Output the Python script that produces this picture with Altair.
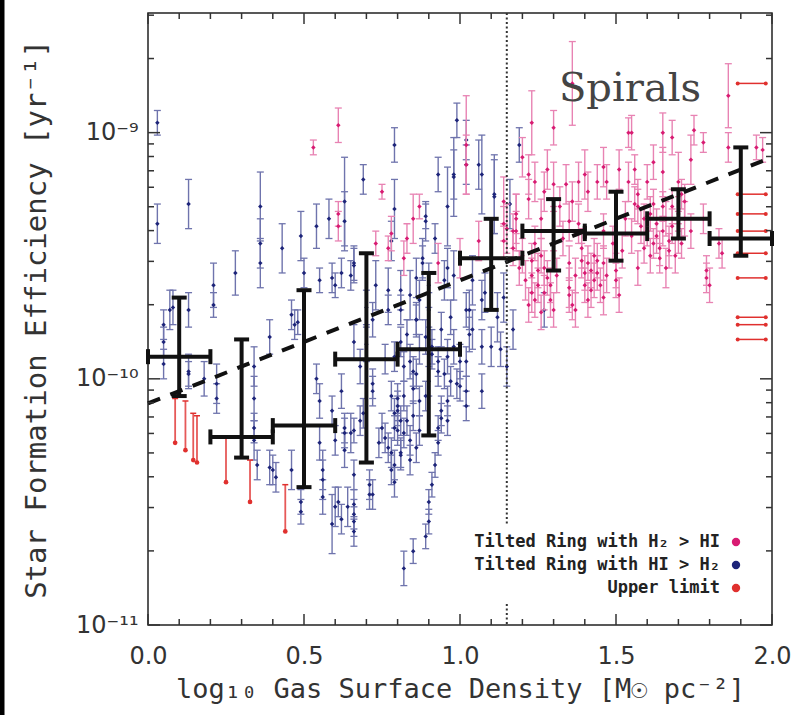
import math
import altair as alt
import pandas as pd

# ---------------- data (x = log10 gas surface density, ly = log10 SFE, e = error in dex)
blue_points = [
    (0.03, -8.96, 0.05), (0.03, -9.37, 0.08), (0.13, -9.29, 0.10), (0.21, -9.62, 0.09), (0.28, -9.57, 0.09),
    (0.36, -9.30, 0.14), (0.36, -9.45, 0.10), (0.36, -9.53, 0.10), (0.43, -9.47, 0.10), (0.49, -9.42, 0.10),
    (0.50, -9.57, 0.06), (0.54, -9.38, 0.09), (0.58, -9.35, 0.08), (0.63, -9.28, 0.18), (0.63, -9.36, 0.12),
    (0.55, -9.60, 0.05), (0.59, -9.59, 0.06), (0.60, -9.62, 0.05), (0.62, -9.57, 0.06), (0.65, -9.58, 0.06),
    (0.66, -9.54, 0.07), (0.69, -9.19, 0.06), (0.79, -9.05, 0.07), (0.79, -9.31, 0.12), (0.93, -9.17, 0.07),
    (0.96, -9.30, 0.16), (0.99, -8.95, 0.07), (0.98, -9.18, 0.16), (1.07, -9.17, 0.16), (1.11, -9.26, 0.15),
    (0.89, -9.34, 0.05), (0.92, -9.43, 0.06), (0.88, -9.51, 0.08), (0.78, -9.44, 0.08), (0.77, -9.64, 0.09),
    (0.81, -9.64, 0.08), (0.86, -9.59, 0.08), (0.88, -9.53, 0.07), (0.95, -9.60, 0.08), (0.96, -9.55, 0.08),
    (0.66, -9.53, 0.07), (1.19, -9.05, 0.07), (1.11, -9.25, 0.16), (1.16, -9.29, 0.10), (1.27, -9.72, 0.07),
    (1.17, -9.80, 0.08), (1.14, -9.67, 0.10), (1.12, -9.75, 0.10), (1.07, -9.87, 0.07), (1.02, -9.03, 0.08),
    (0.98, -9.17, 0.10), (1.02, -9.13, 0.08), (1.06, -9.13, 0.10), (0.89, -9.36, 0.08),
    (0.07, -9.72, 0.08), (0.05, -9.78, 0.06), (0.05, -9.85, 0.06), (0.08, -9.71, 0.07), (0.13, -9.72, 0.07),
    (0.13, -9.97, 0.07), (0.18, -10.00, 0.07), (0.22, -10.02, 0.08), (0.21, -9.70, 0.05), (0.05, -9.94, 0.06),
    (0.13, -9.98, 0.05), (0.22, -10.08, 0.06), (0.39, -9.83, 0.07), (0.34, -9.95, 0.08), (0.34, -10.08, 0.09),
    (0.34, -10.25, 0.08), (0.34, -10.20, 0.06), (0.35, -10.35, 0.06), (0.39, -10.36, 0.07), (0.41, -10.40, 0.06),
    (0.40, -10.37, 0.06), (0.46, -10.37, 0.08), (0.49, -10.50, 0.05), (0.49, -10.54, 0.05), (0.46, -9.74, 0.06),
    (0.47, -9.78, 0.06), (0.48, -9.77, 0.05), (0.54, -10.00, 0.06), (0.55, -10.09, 0.07), (0.55, -10.26, 0.07),
    (0.56, -10.37, 0.08), (0.56, -10.48, 0.07), (0.56, -10.41, 0.08), (0.59, -10.13, 0.06), (0.60, -10.25, 0.06),
    (0.62, -10.05, 0.07), (0.66, -9.85, 0.07), (0.65, -10.22, 0.08), (0.63, -10.29, 0.07), (0.61, -10.50, 0.06),
    (0.64, -10.52, 0.08), (0.59, -10.59, 0.12), (0.60, -10.52, 0.08), (0.62, -10.57, 0.06), (0.66, -10.55, 0.06),
    (0.66, -10.62, 0.06), (0.63, -10.22, 0.06), (0.66, -10.21, 0.05), (0.69, -10.14, 0.06), (0.71, -10.43, 0.06),
    (0.71, -10.47, 0.06), (0.75, -10.20, 0.06), (0.77, -10.28, 0.06), (0.78, -10.37, 0.06), (0.80, -10.13, 0.06),
    (0.70, -9.71, 0.07), (0.72, -9.76, 0.07), (0.70, -9.86, 0.07), (0.77, -9.72, 0.06),
    (0.81, -9.72, 0.06), (0.83, -9.82, 0.06), (0.86, -9.76, 0.06), (0.90, -9.72, 0.07), (0.97, -9.75, 0.07),
    (1.02, -9.72, 0.07), (1.03, -9.82, 0.07), (0.84, -9.93, 0.07), (0.86, -9.98, 0.06), (0.85, -10.04, 0.06),
    (0.87, -10.09, 0.06), (0.93, -9.93, 0.06), (0.95, -9.98, 0.06), (0.99, -10.02, 0.06), (1.02, -9.93, 0.06),
    (1.02, -10.05, 0.06), (0.96, -10.09, 0.06), (0.94, -10.16, 0.06), (0.80, -10.08, 0.06), (0.79, -10.14, 0.06),
    (0.81, -10.17, 0.06), (0.82, -10.22, 0.06), (0.79, -10.20, 0.05), (0.76, -10.24, 0.06),
    (0.74, -10.26, 0.06), (0.78, -10.30, 0.06), (0.81, -10.30, 0.06), (0.79, -10.42, 0.06),
    (0.72, -10.47, 0.06), (0.66, -10.39, 0.06), (0.66, -10.51, 0.06), (0.66, -10.58, 0.06),
    (0.93, -10.20, 0.05), (0.93, -10.26, 0.05), (0.92, -10.35, 0.05), (0.91, -10.43, 0.05), (0.90, -10.50, 0.05),
    (0.90, -10.58, 0.05), (0.89, -10.64, 0.05), (0.85, -10.70, 0.05), (0.82, -10.77, 0.07),
    (0.73, -9.62, 0.10), (0.84, -9.66, 0.10), (0.90, -9.62, 0.09), (0.98, -9.58, 0.10), (1.04, -9.60, 0.10),
    (1.08, -9.65, 0.08), (1.13, -9.88, 0.07), (1.15, -9.95, 0.08), (0.87, -9.88, 0.06), (0.91, -9.90, 0.06),
    (0.76, -9.92, 0.06), (0.68, -9.95, 0.07), (0.72, -10.02, 0.06),
    (0.78, -10.07, 0.06), (0.80, -10.11, 0.06), (0.82, -10.07, 0.06), (0.83, -10.17, 0.06), (0.85, -10.15, 0.06),
    (0.80, -10.21, 0.06), (0.84, -10.25, 0.06), (0.86, -10.28, 0.06), (0.87, -10.21, 0.06), (0.81, -10.31, 0.06),
    (0.79, -10.35, 0.06), (0.84, -10.33, 0.06), (0.87, -9.68, 0.08), (0.86, -9.76, 0.07), (0.89, -9.83, 0.07),
    (0.91, -9.87, 0.07), (0.94, -9.80, 0.07), (0.96, -9.91, 0.07), (0.98, -9.87, 0.07), (1.00, -9.93, 0.07),
    (0.93, -9.97, 0.06), (0.97, -10.01, 0.06), (1.00, -10.03, 0.06), (1.02, -10.11, 0.06), (1.04, -9.80, 0.08),
    (1.03, -9.72, 0.08), (1.07, -9.68, 0.08), (1.10, -9.87, 0.08), (1.07, -10.05, 0.07), (0.94, -10.13, 0.06),
    (0.96, -10.17, 0.06), (0.89, -10.07, 0.06), (0.90, -10.01, 0.06), (0.85, -9.97, 0.06), (0.82, -9.95, 0.06),
    (0.79, -9.91, 0.06), (0.81, -9.85, 0.06), (0.72, -10.05, 0.06), (0.68, -10.17, 0.06), (0.63, -10.20, 0.06),
]

magenta_points = [
    (0.53, -9.06, 0.03), (0.61, -8.97, 0.07), (0.61, -9.33, 0.05), (0.61, -9.38, 0.06), (0.75, -9.24, 0.03),
    (1.02, -9.05, 0.20), (1.02, -9.13, 0.12), (0.87, -9.30, 0.05), (0.85, -9.35, 0.10), (0.78, -9.41, 0.07),
    (0.77, -9.47, 0.05), (0.73, -9.45, 0.05), (0.83, -9.43, 0.06), (0.82, -9.51, 0.07), (0.93, -9.53, 0.08),
    (1.00, -9.51, 0.08), (1.06, -9.44, 0.08), (1.14, -9.28, 0.10), (1.15, -9.39, 0.10), (1.18, -9.35, 0.10),
    (1.36, -8.80, 0.17), (1.23, -8.96, 0.13), (1.30, -8.98, 0.07), (1.30, -9.21, 0.09), (1.34, -9.21, 0.08),
    (1.27, -9.24, 0.08), (1.40, -9.17, 0.10), (1.41, -9.24, 0.08), (1.54, -9.00, 0.06), (1.54, -9.20, 0.08),
    (1.51, -9.15, 0.08), (1.46, -9.14, 0.08), (1.44, -9.20, 0.07), (1.47, -9.20, 0.07), (1.22, -9.17, 0.08),
    (1.22, -9.27, 0.08), (1.18, -9.33, 0.08), (1.18, -9.40, 0.08), (1.35, -9.36, 0.08), (1.38, -9.37, 0.08),
    (1.39, -9.47, 0.08), (1.23, -9.52, 0.07), (1.25, -9.56, 0.07), (1.28, -9.59, 0.07), (1.23, -9.65, 0.08),
    (1.27, -9.65, 0.07), (1.35, -9.63, 0.08), (1.35, -9.53, 0.07), (1.42, -9.56, 0.07), (1.43, -9.60, 0.07),
    (1.41, -9.53, 0.07), (1.44, -9.52, 0.07), (1.46, -9.53, 0.07), (1.50, -9.56, 0.07), (1.50, -9.60, 0.07),
    (1.49, -9.45, 0.07), (1.46, -9.40, 0.07), (1.53, -9.35, 0.07), (1.56, -9.29, 0.07), (1.33, -9.43, 0.07),
    (1.14, -9.37, 0.07), (1.14, -9.44, 0.07), (1.17, -9.40, 0.07),
    (1.86, -8.85, 0.13), (1.86, -9.06, 0.06), (1.95, -9.06, 0.05), (1.97, -9.07, 0.05), (1.78, -9.04, 0.04),
    (1.74, -9.11, 0.10), (1.68, -9.02, 0.07), (1.65, -9.16, 0.10), (1.65, -9.00, 0.08), (1.71, -9.25, 0.06),
    (1.65, -9.30, 0.06), (1.62, -9.29, 0.06), (1.59, -9.35, 0.06), (1.60, -9.40, 0.06), (1.63, -9.37, 0.06),
    (1.65, -9.40, 0.06), (1.67, -9.44, 0.06), (1.70, -9.43, 0.06), (1.71, -9.45, 0.06), (1.59, -9.47, 0.06),
    (1.62, -9.45, 0.06), (1.64, -9.51, 0.06), (1.57, -9.25, 0.06), (1.56, -9.15, 0.06), (1.84, -9.49, 0.06),
    (1.83, -9.45, 0.06), (1.79, -9.59, 0.06), (1.79, -9.56, 0.06), (1.55, -9.00, 0.07), (1.75, -8.99, 0.06),
    (1.20, -9.50, 0.07), (1.19, -9.55, 0.07), (1.21, -9.60, 0.08), (1.24, -9.45, 0.07), (1.26, -9.50, 0.07),
    (1.17, -9.47, 0.07), (1.29, -9.68, 0.07), (1.31, -9.58, 0.07), (1.30, -9.72, 0.07), (1.36, -9.70, 0.06),
    (1.37, -9.58, 0.07), (1.40, -9.62, 0.07), (1.46, -9.67, 0.07), (1.47, -9.58, 0.07), (1.52, -9.48, 0.07),
    (1.55, -9.42, 0.07), (1.57, -9.55, 0.07), (1.60, -9.20, 0.07), (1.62, -9.12, 0.07), (1.68, -9.30, 0.07),
    (1.72, -9.35, 0.07), (1.69, -9.50, 0.07), (1.66, -9.55, 0.08), (1.74, -9.40, 0.07), (1.70, -9.20, 0.12),
    (1.78, -9.35, 0.06), (1.80, -9.62, 0.07), (1.51, -9.66, 0.07),
    (1.23, -9.58, 0.07), (1.25, -9.62, 0.07), (1.27, -9.55, 0.07), (1.22, -9.70, 0.07), (1.26, -9.73, 0.07),
    (1.29, -9.62, 0.07), (1.24, -9.68, 0.07), (1.39, -9.52, 0.07), (1.40, -9.57, 0.07), (1.42, -9.64, 0.07),
    (1.43, -9.50, 0.07), (1.44, -9.57, 0.07), (1.45, -9.62, 0.07), (1.41, -9.68, 0.07), (1.57, -9.30, 0.07),
    (1.58, -9.38, 0.07), (1.61, -9.33, 0.07), (1.63, -9.42, 0.07), (1.66, -9.35, 0.07), (1.68, -9.38, 0.07),
    (1.70, -9.33, 0.07), (1.72, -9.28, 0.07), (1.64, -9.47, 0.07), (1.61, -9.50, 0.07), (1.67, -9.48, 0.07),
    (1.20, -9.10, 0.08), (1.24, -9.20, 0.08), (1.28, -9.15, 0.08), (1.32, -9.30, 0.08), (1.26, -9.35, 0.08),
    (1.30, -9.40, 0.08), (1.36, -9.28, 0.08), (1.38, -9.20, 0.08), (1.35, -9.66, 0.07), (1.37, -9.72, 0.07),
]

# upper limits, low-density side: (x, log10 top, log10 bottom)
red_left = [
    (0.087, -10.08, -10.26), (0.12, -10.09, -10.29), (0.145, -10.14, -10.33), (0.157, -10.15, -10.34),
    (0.25, -10.24, -10.42), (0.327, -10.33, -10.50), (0.44, -10.43, -10.62),
]
# upper limits, high-density side (horizontal arrows)
red_right_ly = [-8.80, -9.25, -9.33, -9.40, -9.49, -9.59, -9.75, -9.78, -9.84]
red_right_x = [1.89, 1.98]

# binned medians
bin_x = [0.1, 0.3, 0.5, 0.7, 0.9, 1.1, 1.3, 1.5, 1.7, 1.9]
bin_ly = [-9.91, -10.236, -10.19, -9.92, -9.88, -9.51, -9.40, -9.41, -9.35, -9.43]
bin_lo = [-10.07, -10.32, -10.44, -10.34, -10.23, -9.72, -9.56, -9.52, -9.43, -9.50]
bin_hi = [-9.67, -9.84, -9.64, -9.49, -9.57, -9.35, -9.27, -9.24, -9.23, -9.06]
bin_half = 0.1

fit_x = [0.0, 2.0]
fit_ly = [-10.10, -9.10]

threshold_x = 1.15
threshold_segments = [(-8.514, -10.59), (-10.915, -11.0)]

x_major = [0.0, 0.5, 1.0, 1.5, 2.0]
y_major = [1e-11, 1e-10, 1e-9]
y_labels = ["10⁻¹¹", "10⁻¹⁰", "10⁻⁹"]
y_domain = [1e-11, 10 ** -8.514]

legend_labels = ["Tilted Ring with H₂ > HI", "Tilted Ring with HI > H₂", "Upper limit"]

# ---------------- colours
BLUE_PT, BLUE_BAR = "#1d2479", "#6f74ad"
MAG_PT, MAG_BAR = "#d81b72", "#e883b3"
RED = "#e0302e"
legend_colors = [MAG_PT, BLUE_PT, RED]

W, H = 624, 612


def frame(rows):
    df = pd.DataFrame(rows, columns=["x", "ly", "e"])
    df["y"] = 10 ** df["ly"]
    df["ylo"] = 10 ** (df["ly"] - df["e"])
    df["yhi"] = 10 ** (df["ly"] + df["e"])
    return df


xs = alt.Scale(domain=[0, 2], nice=False, zero=False)
ys = alt.Scale(type="log", domain=y_domain, nice=False)

expr = " : ".join(
    [f"abs(log(datum.value)/LN10 - ({int(round(math.log10(v)))})) < 0.01 ? '{l}'" for v, l in zip(y_major, y_labels)]
) + " : ''"

common = dict(grid=False, ticks=False, domain=False, labelFlush=False,
              labelFont="DejaVu Sans", labelFontSize=24, labelColor="#333",
              titleFont="DejaVu Sans Mono", titleFontWeight="normal", titleColor="#333")
XAX = alt.Axis(values=x_major, format=".1f", title="log₁₀ Gas Surface Density [M☉ pc⁻²]",
               labelPadding=19, titlePadding=8, titleFontSize=27, **common)
YAX = alt.Axis(values=y_major, labelExpr=expr, title="Star Formation Efficiency [yr⁻¹]",
               labelPadding=10, titlePadding=24, titleFontSize=29, **common)


def X(f, **kw):
    return alt.X(f, type="quantitative", scale=xs, axis=XAX, **kw)


def Y(f, **kw):
    return alt.Y(f, type="quantitative", scale=ys, axis=YAX, **kw)


layers = []


def errpoints(df, bar_color, pt_color, pt_size=20):
    base = alt.Chart(df)
    return [
        base.mark_rule(color=bar_color, strokeWidth=1.4, clip=True).encode(x=X("x"), y=Y("ylo"), y2="yhi"),
        base.mark_tick(color=bar_color, orient="horizontal", size=7, thickness=1.3, opacity=1, clip=True).encode(x=X("x"), y=Y("ylo")),
        base.mark_tick(color=bar_color, orient="horizontal", size=7, thickness=1.3, opacity=1, clip=True).encode(x=X("x"), y=Y("yhi")),
        base.mark_point(shape="diamond", filled=True, color=pt_color, size=pt_size, opacity=1, clip=True).encode(x=X("x"), y=Y("y")),
    ]


bdf = frame(blue_points)
mdf = frame(magenta_points)
layers += errpoints(bdf, BLUE_BAR, BLUE_PT)
layers += errpoints(mdf, MAG_BAR, MAG_PT)

# red upper limits (left)
rl = pd.DataFrame(red_left, columns=["x", "top", "bot"])
rl["ytop"] = 10 ** rl["top"]
rl["ybot"] = 10 ** rl["bot"]
layers += [
    alt.Chart(rl).mark_rule(color=RED, strokeWidth=1.8, opacity=0.8).encode(x=X("x"), y=Y("ytop"), y2="ybot"),
    alt.Chart(rl).mark_tick(color=RED, orient="horizontal", size=6, thickness=1.5, opacity=1).encode(x=X("x"), y=Y("ytop")),
    alt.Chart(rl).mark_circle(color=RED, size=22, opacity=1).encode(x=X("x"), y=Y("ybot")),
]
# red upper limits (right, horizontal)
rr = pd.DataFrame({"y": [10 ** v for v in red_right_ly]})
rr["x0"] = red_right_x[0]
rr["x1"] = red_right_x[1]
layers += [
    alt.Chart(rr).mark_rule(color=RED, strokeWidth=1.5).encode(x=X("x0"), x2="x1", y=Y("y")),
    alt.Chart(rr).mark_circle(color=RED, size=16, opacity=1).encode(x=X("x0"), y=Y("y")),
    alt.Chart(rr).mark_circle(color=RED, size=16, opacity=1).encode(x=X("x1"), y=Y("y")),
]

# binned medians
bd = pd.DataFrame({"x": bin_x, "ly": bin_ly, "lo": bin_lo, "hi": bin_hi})
bd["y"] = 10 ** bd["ly"]
bd["ylo"] = 10 ** bd["lo"]
bd["yhi"] = 10 ** bd["hi"]
bd["xlo"] = bd["x"] - bin_half
bd["xhi"] = bd["x"] + bin_half
K = "#111111"
bb = alt.Chart(bd)
layers += [
    bb.mark_rule(color=K, strokeWidth=4).encode(x=X("x"), y=Y("ylo"), y2="yhi"),
    bb.mark_rule(color=K, strokeWidth=4).encode(x=X("xlo"), x2="xhi", y=Y("y")),
    bb.mark_tick(color=K, orient="horizontal", size=15, thickness=4, opacity=1).encode(x=X("x"), y=Y("ylo")),
    bb.mark_tick(color=K, orient="horizontal", size=15, thickness=4, opacity=1).encode(x=X("x"), y=Y("yhi")),
    bb.mark_tick(color=K, orient="vertical", size=15, thickness=4, opacity=1).encode(x=X("xlo"), y=Y("y")),
    bb.mark_tick(color=K, orient="vertical", size=15, thickness=4, opacity=1).encode(x=X("xhi"), y=Y("y")),
]

# dashed fit
fd = pd.DataFrame({"x": fit_x, "y": [10 ** v for v in fit_ly]})
layers.append(alt.Chart(fd).mark_line(color=K, strokeWidth=4, strokeDash=[13, 11]).encode(x=X("x"), y=Y("y")))

# dotted threshold
td = pd.DataFrame({"x": threshold_x, "y": [10 ** a for a, b in threshold_segments], "y2": [10 ** b for a, b in threshold_segments]})
layers.append(alt.Chart(td).mark_rule(color="#333", strokeWidth=2, strokeDash=[2, 2.5]).encode(x=X("x"), y=Y("y"), y2="y2"))

# inward tick marks on all four sides
x_minor = [round(0.1 * i, 1) for i in range(21) if i % 5 != 0]
y_minor = [m * 10.0 ** e for e in (-11, -10, -9) for m in range(2, 10) if m * 10.0 ** e < y_domain[1]]
xmj = pd.DataFrame({"v": x_major})
xmn = pd.DataFrame({"v": x_minor})
ymj = pd.DataFrame({"v": y_major})
ymn = pd.DataFrame({"v": y_minor})
TC = "#333333"
for df, L in ((xmj, 11), (xmn, 6)):
    layers.append(alt.Chart(df).mark_rule(color=TC, strokeWidth=1.5).encode(x=X("v"), y=alt.value(H), y2=alt.value(H - L)))
    layers.append(alt.Chart(df).mark_rule(color=TC, strokeWidth=1.5).encode(x=X("v"), y=alt.value(0), y2=alt.value(L)))
for df, L in ((ymj, 12), (ymn, 6)):
    layers.append(alt.Chart(df).mark_rule(color=TC, strokeWidth=1.5).encode(y=Y("v"), x=alt.value(0), x2=alt.value(L)))
    layers.append(alt.Chart(df).mark_rule(color=TC, strokeWidth=1.5).encode(y=Y("v"), x=alt.value(W), x2=alt.value(W - L)))

one = pd.DataFrame({"a": [0]})
# "Spirals" label
layers.append(alt.Chart(one).mark_text(text="Spirals", font="DejaVu Serif", fontSize=40, color="#444",
                                       align="center", baseline="middle").encode(x=alt.value(482), y=alt.value(76)))
# legend
for i, (lab, col) in enumerate(zip(legend_labels, legend_colors)):
    yy = 529 + i * 23
    layers.append(alt.Chart(one).mark_text(text=lab, font="DejaVu Sans Mono", fontWeight="bold", fontSize=17,
                                           color="#222", align="right", baseline="middle").encode(x=alt.value(572), y=alt.value(yy)))
    layers.append(alt.Chart(one).mark_circle(color=col, size=70, opacity=1).encode(x=alt.value(588), y=alt.value(yy)))

# dark strip on the left edge of the picture
layers.append(alt.Chart(one).mark_rule(color="#000", strokeWidth=5).encode(x=alt.value(-146), y=alt.value(-13), y2=alt.value(702)))

chart = alt.layer(*layers).properties(
    width=W, height=H, autosize="none",
    padding={"left": 148, "top": 13, "right": 28, "bottom": 90},
    background="white",
).configure_view(stroke="#222", strokeWidth=1.5)

chart.save("out.html", embed_options={"renderer": "svg", "actions": False})
